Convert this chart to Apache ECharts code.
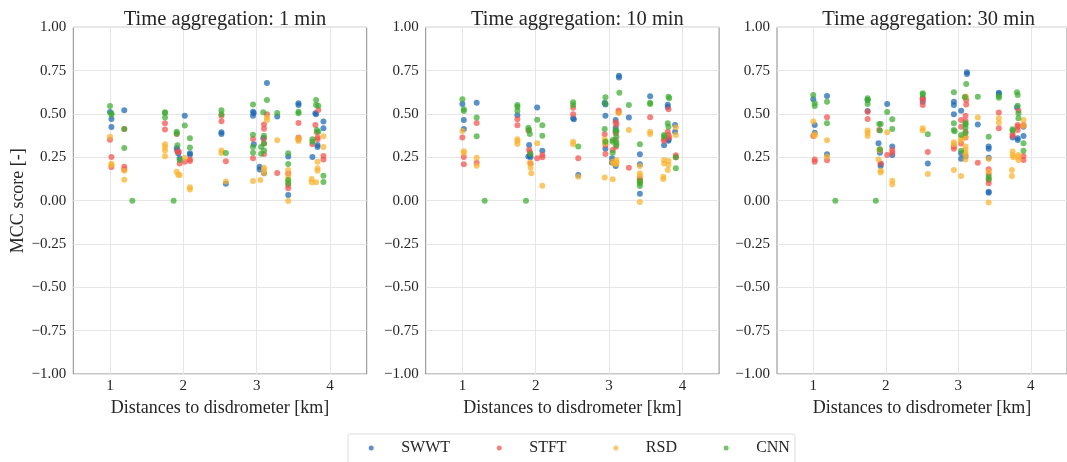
<!DOCTYPE html>
<html><head><meta charset="utf-8">
<script src="https://cdn.jsdelivr.net/npm/echarts@6/dist/echarts.min.js"></script>
<style>html,body{margin:0;padding:0;background:#fff}#c{width:1067px;height:462px}</style>
</head><body><div id="c"></div>
<script>
const methods = ['SWWT', 'STFT', 'RSD', 'CNN'];
const panelTitles = ['Time aggregation: 1 min', 'Time aggregation: 10 min', 'Time aggregation: 30 min'];
const xTickValues = [1, 2, 3, 4];
const xAxisTitle = 'Distances to disdrometer [km]';
const yAxisTitle = 'MCC score [-]';

// ---- 1 min ----
const swwt_1min = [[1.0,0.511],[1.02,0.471],[1.02,0.425],[1.195,0.521],[1.91,0.302],[1.93,0.273],[1.95,0.244],[1.92,0.29],[2.02,0.49],[2.09,0.273],[2.09,0.265],[2.52,0.394],[2.52,0.385],[2.58,0.098],[2.95,0.513],[2.96,0.505],[2.95,0.49],[2.96,0.325],[3.04,0.196],[3.04,0.18],[3.09,0.36],[3.14,0.679],[3.1,0.158],[3.28,0.485],[3.43,0.254],[3.43,0.033],[3.57,0.562],[3.57,0.552],[3.76,0.252],[3.8,0.504],[3.81,0.498],[3.83,0.321],[3.83,0.31],[3.91,0.456],[3.91,0.417]];
const stft_1min = [[1.0,0.352],[1.02,0.252],[1.02,0.194],[1.195,0.413],[1.195,0.196],[1.195,0.18],[1.75,0.446],[1.75,0.41],[1.91,0.385],[1.92,0.283],[1.94,0.28],[1.95,0.215],[2.02,0.225],[2.09,0.238],[2.09,0.229],[2.52,0.458],[2.52,0.49],[2.58,0.227],[2.95,0.356],[2.95,0.244],[3.14,0.498],[3.1,0.44],[3.1,0.415],[3.1,0.36],[3.1,0.33],[3.1,0.269],[3.28,0.16],[3.43,0.156],[3.43,0.09],[3.43,0.071],[3.57,0.448],[3.57,0.365],[3.57,0.354],[3.76,0.325],[3.8,0.437],[3.82,0.394],[3.83,0.365],[3.83,0.354],[3.84,0.523],[3.91,0.258],[3.91,0.238]];
const rsd_1min = [[1.0,0.369],[1.02,0.213],[1.02,0.205],[1.195,0.173],[1.195,0.121],[1.75,0.325],[1.75,0.31],[1.75,0.29],[1.75,0.256],[1.91,0.167],[1.93,0.15],[1.95,0.148],[2.02,0.248],[2.09,0.077],[2.09,0.065],[2.52,0.29],[2.52,0.275],[2.58,0.11],[2.95,0.113],[3.05,0.119],[3.14,0.479],[3.14,0.465],[3.1,0.19],[3.1,0.177],[3.1,0.158],[3.28,0.348],[3.43,0.177],[3.43,0.142],[3.43,0.119],[3.43,-0.002],[3.57,0.36],[3.57,0.344],[3.75,0.125],[3.75,0.106],[3.81,0.106],[3.83,0.225],[3.83,0.187],[3.83,0.173],[3.91,0.371],[3.91,0.31]];
const cnn_1min = [[1.0,0.546],[1.02,0.504],[1.02,0.497],[1.195,0.413],[1.195,0.304],[1.305,0],[1.75,0.51],[1.75,0.505],[1.75,0.48],[1.868,0],[1.91,0.398],[1.91,0.388],[1.92,0.319],[1.95,0.235],[2.02,0.433],[2.09,0.36],[2.09,0.306],[2.52,0.521],[2.52,0.498],[2.58,0.275],[2.95,0.554],[2.95,0.38],[2.95,0.31],[2.95,0.277],[3.09,0.51],[3.06,0.31],[3.06,0.27],[3.1,0.375],[3.1,0.33],[3.1,0.29],[3.14,0.581],[3.28,0.506],[3.43,0.273],[3.43,0.212],[3.43,0.119],[3.43,0.1],[3.57,0.513],[3.57,0.504],[3.76,0.354],[3.76,0.34],[3.81,0.58],[3.81,0.552],[3.84,0.548],[3.82,0.408],[3.84,0.398],[3.91,0.144],[3.91,0.108]];

// ---- 10 min ----
const swwt_10min = [[1.0,0.558],[1.02,0.465],[1.02,0.413],[1.195,0.565],[1.75,0.492],[1.91,0.321],[1.92,0.26],[1.93,0.25],[1.9,0.254],[2.02,0.538],[2.09,0.288],[2.51,0.475],[2.52,0.47],[2.58,0.148],[2.94,0.565],[2.95,0.555],[2.95,0.49],[2.95,0.3],[3.04,0.244],[3.04,0.22],[3.09,0.2],[3.135,0.72],[3.135,0.71],[3.09,0.465],[3.09,0.42],[3.09,0.4],[3.27,0.48],[3.42,0.267],[3.42,0.21],[3.42,0.04],[3.56,0.602],[3.8,0.553],[3.8,0.54],[3.81,0.353],[3.81,0.345],[3.75,0.32],[3.9,0.437],[3.9,0.398]];
const stft_10min = [[1.0,0.365],[1.02,0.252],[1.02,0.21],[1.195,0.448],[1.195,0.219],[1.75,0.469],[1.75,0.435],[1.9,0.404],[1.91,0.294],[1.92,0.281],[1.93,0.215],[2.02,0.244],[2.09,0.263],[2.09,0.25],[2.51,0.536],[2.51,0.498],[2.58,0.244],[2.94,0.383],[2.95,0.321],[2.95,0.269],[3.05,0.292],[3.09,0.452],[3.1,0.44],[3.09,0.388],[3.09,0.35],[3.09,0.31],[3.13,0.52],[3.13,0.51],[3.27,0.19],[3.42,0.129],[3.42,0.119],[3.42,0.11],[3.56,0.481],[3.75,0.354],[3.75,0.345],[3.81,0.527],[3.8,0.398],[3.81,0.379],[3.82,0.365],[3.91,0.262],[3.91,0.25]];
const rsd_10min = [[1.0,0.402],[1.02,0.285],[1.02,0.275],[1.195,0.248],[1.195,0.202],[1.75,0.354],[1.75,0.342],[1.75,0.327],[1.92,0.219],[1.93,0.19],[1.94,0.158],[2.02,0.331],[2.09,0.086],[2.51,0.34],[2.51,0.325],[2.58,0.138],[2.94,0.354],[2.95,0.34],[2.95,0.33],[2.94,0.133],[3.05,0.225],[3.06,0.215],[3.05,0.123],[3.1,0.235],[3.1,0.22],[3.1,0.212],[3.13,0.505],[3.27,0.408],[3.42,0.2],[3.42,0.158],[3.42,0.144],[3.42,0.106],[3.42,-0.008],[3.56,0.398],[3.56,0.385],[3.75,0.235],[3.75,0.215],[3.74,0.138],[3.74,0.125],[3.81,0.229],[3.81,0.206],[3.8,0.177],[3.91,0.423],[3.91,0.379]];
const cnn_10min = [[1.0,0.585],[1.02,0.527],[1.02,0.517],[1.195,0.479],[1.195,0.371],[1.304,0],[1.75,0.552],[1.75,0.542],[1.75,0.519],[1.867,0],[1.9,0.421],[1.91,0.408],[1.92,0.385],[1.93,0.269],[2.02,0.467],[2.09,0.435],[2.09,0.375],[2.51,0.567],[2.51,0.552],[2.58,0.313],[2.95,0.596],[2.95,0.56],[2.94,0.413],[2.95,0.34],[3.05,0.35],[3.05,0.34],[3.05,0.277],[3.09,0.408],[3.1,0.4],[3.1,0.369],[3.1,0.335],[3.1,0.32],[3.14,0.623],[3.27,0.552],[3.42,0.325],[3.42,0.113],[3.42,0.1],[3.42,0.085],[3.56,0.565],[3.56,0.558],[3.75,0.379],[3.75,0.37],[3.81,0.6],[3.82,0.59],[3.8,0.446],[3.81,0.427],[3.91,0.25],[3.91,0.187]];

// ---- 30 min ----
const swwt_30min = [[1.0,0.585],[1.02,0.437],[1.02,0.392],[1.19,0.604],[1.19,0.267],[1.75,0.581],[1.75,0.517],[1.9,0.331],[1.92,0.277],[1.93,0.212],[1.93,0.2],[2.02,0.558],[2.09,0.312],[2.09,0.263],[2.51,0.59],[2.51,0.57],[2.58,0.215],[2.94,0.571],[2.94,0.552],[2.94,0.498],[3.04,0.519],[3.04,0.273],[3.04,0.242],[3.12,0.74],[3.12,0.731],[3.1,0.254],[3.27,0.44],[3.42,0.312],[3.42,0.3],[3.42,0.248],[3.42,0.052],[3.42,0.045],[3.56,0.623],[3.56,0.615],[3.75,0.365],[3.81,0.537],[3.82,0.36],[3.82,0.35],[3.9,0.427],[3.9,0.373]];
const stft_30min = [[1.0,0.373],[1.02,0.238],[1.02,0.225],[1.19,0.481],[1.19,0.233],[1.75,0.513],[1.75,0.471],[1.91,0.408],[1.92,0.292],[1.93,0.215],[2.02,0.263],[2.09,0.292],[2.09,0.277],[2.51,0.59],[2.51,0.581],[2.51,0.552],[2.58,0.281],[2.94,0.312],[2.94,0.3],[3.04,0.465],[3.04,0.427],[3.04,0.33],[3.1,0.6],[3.11,0.581],[3.11,0.554],[3.1,0.49],[3.1,0.46],[3.1,0.398],[3.1,0.365],[3.27,0.219],[3.42,0.181],[3.42,0.154],[3.42,0.119],[3.42,0.1],[3.56,0.508],[3.56,0.417],[3.75,0.385],[3.75,0.373],[3.82,0.437],[3.82,0.427],[3.82,0.408],[3.83,0.52],[3.9,0.258],[3.9,0.235],[3.9,0.437]];
const rsd_30min = [[1.0,0.456],[1.02,0.383],[1.02,0.375],[1.19,0.348],[1.19,0.254],[1.75,0.404],[1.75,0.392],[1.75,0.373],[1.91,0.292],[1.9,0.238],[1.93,0.173],[1.93,0.162],[2.02,0.394],[2.09,0.115],[2.09,0.094],[2.51,0.417],[2.51,0.404],[2.58,0.154],[2.94,0.337],[2.94,0.325],[2.94,0.177],[3.04,0.362],[3.04,0.345],[3.04,0.142],[3.1,0.6],[3.1,0.369],[3.1,0.312],[3.1,0.292],[3.1,0.277],[3.1,0.263],[3.1,0.238],[3.27,0.479],[3.42,0.24],[3.42,0.167],[3.42,-0.01],[3.56,0.475],[3.56,0.45],[3.75,0.283],[3.75,0.263],[3.76,0.25],[3.74,0.177],[3.74,0.142],[3.83,0.263],[3.83,0.25],[3.83,0.235],[3.9,0.465],[3.9,0.43]];
const cnn_30min = [[1.0,0.61],[1.02,0.562],[1.02,0.546],[1.19,0.571],[1.19,0.446],[1.304,0],[1.75,0.59],[1.75,0.58],[1.75,0.558],[1.863,0],[1.91,0.442],[1.93,0.442],[1.92,0.405],[1.92,0.296],[2.02,0.512],[2.09,0.469],[2.09,0.413],[2.51,0.619],[2.51,0.612],[2.58,0.383],[2.94,0.625],[2.94,0.446],[2.94,0.408],[2.95,0.4],[3.04,0.379],[3.04,0.288],[3.11,0.673],[3.09,0.596],[3.1,0.446],[3.1,0.44],[3.1,0.42],[3.1,0.39],[3.27,0.6],[3.42,0.369],[3.42,0.138],[3.42,0.125],[3.56,0.604],[3.56,0.594],[3.75,0.412],[3.75,0.405],[3.81,0.625],[3.82,0.61],[3.82,0.548],[3.83,0.504],[3.83,0.475],[3.9,0.331],[3.9,0.288]];

const panelData = [
  [swwt_1min, stft_1min, rsd_1min, cnn_1min],
  [swwt_10min, stft_10min, rsd_10min, cnn_10min],
  [swwt_30min, stft_30min, rsd_30min, cnn_30min]
];

const colors = ['#1a66b3', '#f4524b', '#fbb22b', '#3bac2f'];
const FONT = 'Liberation Serif';
const TXT = '#262626';
const gridLefts = [73.3, 425.7, 777];
const gridW = 293.4;

const chart = echarts.init(document.getElementById('c'), null, {renderer: 'canvas'});
const grids = [], xAxes = [], yAxes = [], titles = [], series = [];
for (let p = 0; p < 3; p++) {
  grids.push({left: gridLefts[p], top: 27.3, width: gridW, height: 346.7, show: true,
    borderColor: '#8a8a8a', borderWidth: 1, backgroundColor: 'transparent', containLabel: false});
  xAxes.push({type: 'value', gridIndex: p, min: 0.5, max: 4.5,
    name: xAxisTitle, nameLocation: 'middle', nameGap: 20,
    nameTextStyle: {fontFamily: FONT, fontSize: 18, color: TXT},
    axisLine: {show: false}, axisTick: {show: false, customValues: xTickValues},
    axisLabel: {customValues: xTickValues, fontFamily: FONT, fontSize: 15, color: TXT, margin: 5},
    splitLine: {show: true, lineStyle: {color: '#e6e6e6', width: 1}}});
  yAxes.push({type: 'value', gridIndex: p, min: -1, max: 1, interval: 0.25,
    name: p === 0 ? yAxisTitle : '', nameLocation: 'middle', nameGap: 46, nameRotate: 90,
    nameTextStyle: {fontFamily: FONT, fontSize: 18, color: TXT},
    axisLine: {show: false}, axisTick: {show: false},
    axisLabel: {fontFamily: FONT, fontSize: 15, color: TXT, margin: 7,
      formatter: v => (v < 0 ? '\u2212' : '') + Math.abs(v).toFixed(2)},
    splitLine: {show: true, lineStyle: {color: '#e6e6e6', width: 1}}});
  titles.push({text: panelTitles[p], left: gridLefts[p] + gridW / 2, top: 4, textAlign: 'center',
    textStyle: {fontFamily: FONT, fontSize: 20.5, fontWeight: 'normal', color: TXT}});
  for (let m = 0; m < 4; m++) {
    series.push({type: 'scatter', name: methods[m], xAxisIndex: p, yAxisIndex: p,
      data: panelData[p][m], symbol: 'circle', symbolSize: 6,
      itemStyle: {color: colors[m], opacity: 0.72}, emphasis: {disabled: true}, animation: false});
  }
}

chart.setOption({
  animation: false,
  title: titles,
  grid: grids,
  xAxis: xAxes,
  yAxis: yAxes,
  legend: {data: methods, left: 348, top: 434, orient: 'horizontal',
    icon: 'circle', itemWidth: 10, itemHeight: 5, itemGap: 46.7,
    padding: [6, 5, 30, 20.7], borderColor: '#dcdcdc', borderWidth: 1, borderRadius: 2,
    backgroundColor: '#fff',
    textStyle: {fontFamily: FONT, fontSize: 16, color: TXT, padding: [0, 0, 0, 20]}},
  series: series
});
</script>
</body></html>
